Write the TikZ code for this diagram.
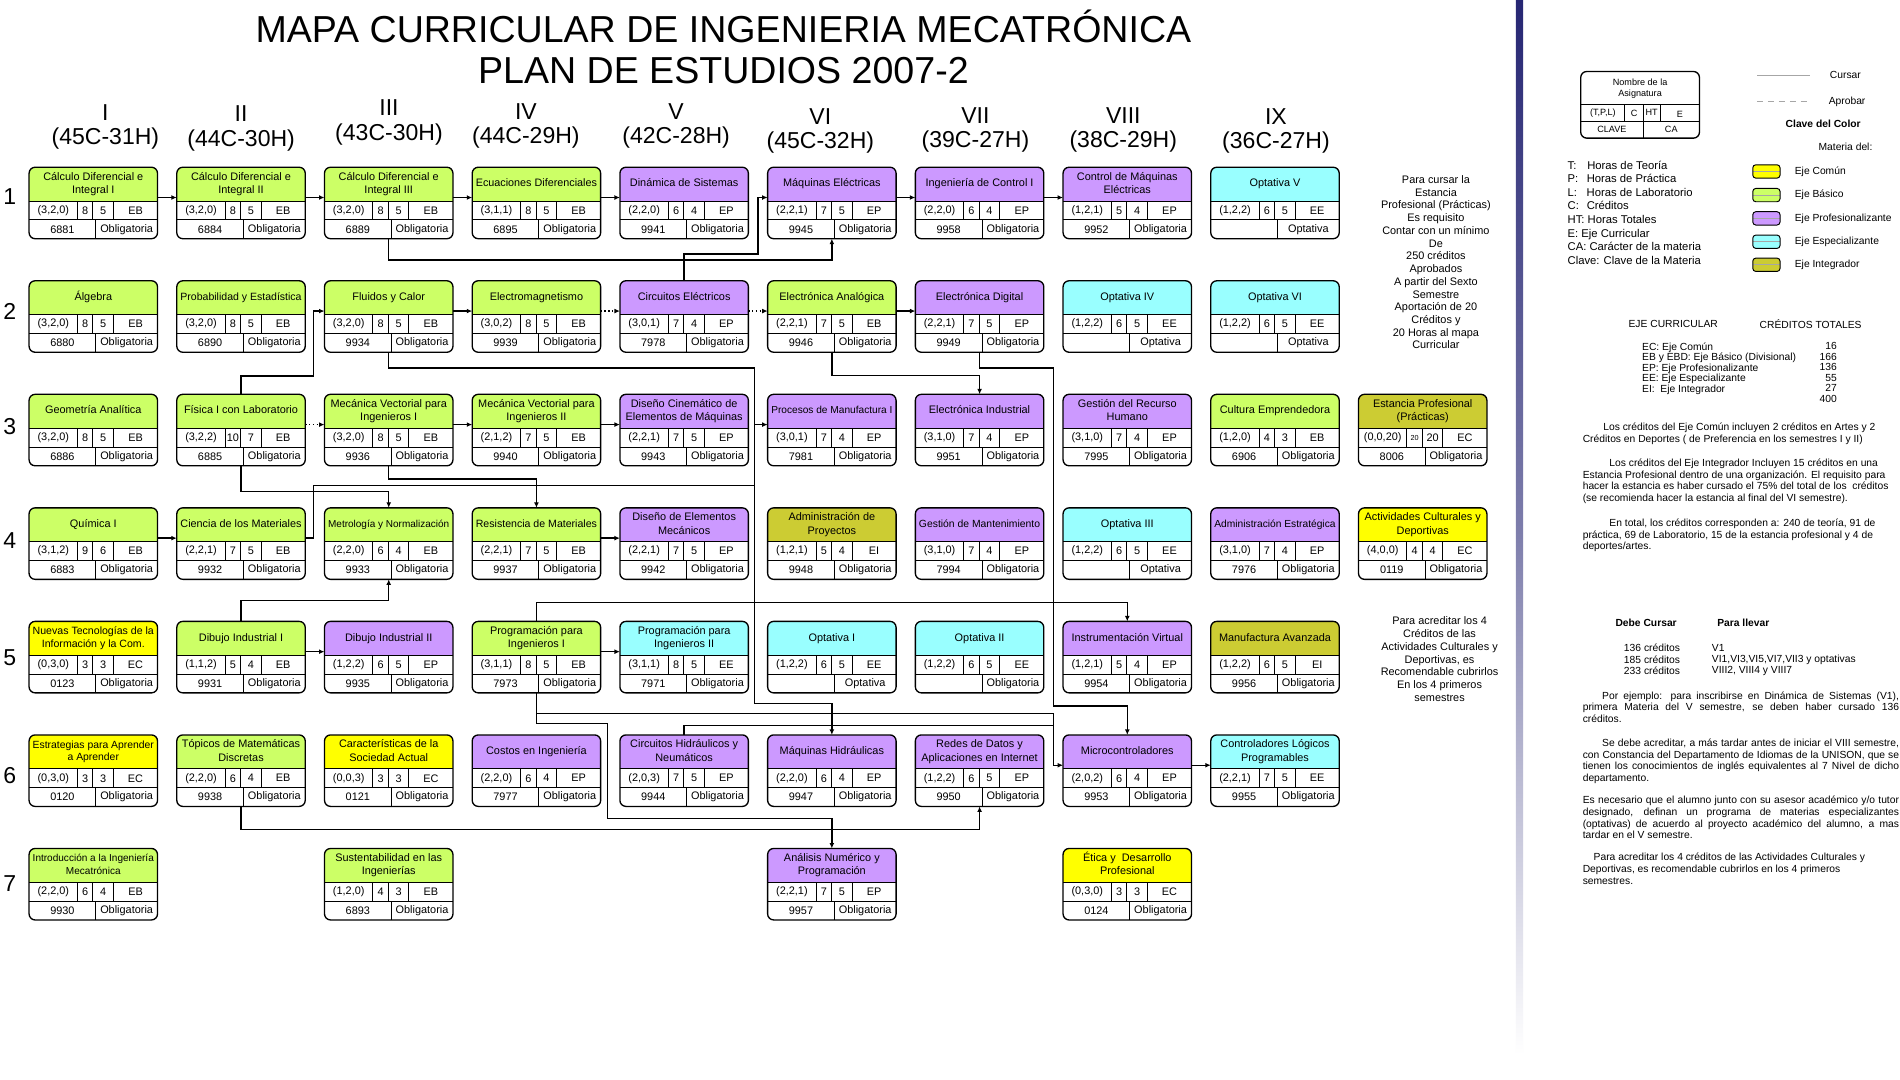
\documentclass[tikz,border=0pt]{standalone}
\usepackage{fontspec}
\setmainfont{Liberation Sans}
\usepackage{graphicx}
\usepackage{tikz}
\usetikzlibrary{arrows.meta}
\definecolor{ejecomun}{HTML}{FFFF00}
\definecolor{ejebasico}{HTML}{CCFF66}
\definecolor{ejeprof}{HTML}{CC99FF}
\definecolor{ejeesp}{HTML}{99FFFF}
\definecolor{ejeint}{HTML}{CCCC33}
\definecolor{barra}{HTML}{262673}
\definecolor{gris}{HTML}{A6A6A6}

% titulo de la materia: se reduce si no cabe en la caja
\newsavebox\cajatitulo
\newcommand{\ajusta}[1]{\sbox\cajatitulo{\begin{tabular}{@{}c@{}}#1\end{tabular}}%
  \ifdim\wd\cajatitulo>100pt\resizebox{100pt}{!}{\usebox\cajatitulo}\else\usebox\cajatitulo\fi}
\newcommand{\renglon}[1]{\makebox[261pt][s]{#1}}

% (T,P,L) / C / HT / E
\def\celdas#1#2/#3/#4/#5\relax{%
  \node[dato] (#1-h)  at ([shift={(20,-35.75)}]#1.north west) {#2};
  \node[dato] (#1-c)  at ([shift={(46.35,-35.75)}]#1.north west) {#3};
  \node[dato] (#1-ht) at ([shift={(61.2,-35.75)}]#1.north west) {#4};
  \node[dato] (#1-e)  at ([shift={(87.85,-35.75)}]#1.north west) {#5};
}
% nombre, semestre, fila, eje, titulo, celdas, clave, caracter
\newcommand{\materia}[8]{%
  \node[materia=#4] (#1) at ({24+121.9*(#2-1)},{-138-93.7*(#3-1)}) {};
  \node[titulo] (#1-t) at ([yshift=-14pt]#1.north) {\ajusta{#5}};
  \celdas{#1}#6\relax
  \node[dato] (#1-cl) at ([shift={(27.5,-51.3)}]#1.north west) {#7};
  \node[dato] (#1-ca) at ([shift={(80.5,-51.3)}]#1.north west) {#8};
}

\begin{document}
\begin{tikzpicture}[
    x=1pt, y=1pt,
    materia/.style={draw, line width=1.1pt, rounded corners=5pt, anchor=north west,
        minimum width=106pt, minimum height=59pt, inner sep=0pt, outer sep=0pt, fill=white,
        path picture={
            \coordinate (pp) at (path picture bounding box.north west);
            \fill[#1, sharp corners] (pp) rectangle ++(106,-28);
            \draw[line width=0.8pt, sharp corners]
                (pp) ++(0,-28) -- ++(106,0) (pp) ++(0,-43.5) -- ++(106,0)
                (pp) ++(40,-28) -- ++(0,-15.5) (pp) ++(52.7,-28) -- ++(0,-15.5)
                (pp) ++(69.7,-28) -- ++(0,-15.5) (pp) ++(55,-43.5) -- ++(0,-15.5);
        }},
    titulo/.style={inner sep=0pt, outer sep=0pt, minimum width=106pt, minimum height=22pt,
        font=\fontsize{9}{11}\selectfont},
    dato/.style={inner sep=0pt, font=\fontsize{9}{10}\selectfont},
    flecha/.style={-{Latex[length=4.5pt, width=4pt]}, line width=1.1pt},
    punteada/.style={flecha, dotted},
    linea/.style={line width=1.1pt},
    encabezado/.style={inner sep=0pt, align=center, font=\fontsize{19}{20}\selectfont},
    fila/.style={inner sep=0pt, font=\fontsize{19}{20}\selectfont},
    rotulo/.style={inner sep=0pt, align=center, font=\fontsize{31}{34}\selectfont},
    nota/.style={inner sep=0pt, align=center, font=\fontsize{9}{10.5}\selectfont},
    leyenda/.style={inner sep=0pt, font=\fontsize{8.5}{10}\selectfont},
    parrafo/.style={inner sep=0pt, align=left, anchor=north west, font=\fontsize{8.5}{9.6}\selectfont},
    muestra/.style={draw, line width=1.1pt, rounded corners=5pt, anchor=north west,
        minimum width=98pt, minimum height=55pt, inner sep=0pt, outer sep=0pt,
        path picture={
            \coordinate (pm) at (path picture bounding box.north west);
            \draw[line width=0.8pt, sharp corners]
                (pm) ++(0,-27) -- ++(98,0) (pm) ++(0,-41) -- ++(98,0)
                (pm) ++(36.5,-27) -- ++(0,-14) (pm) ++(51.5,-27) -- ++(0,-14)
                (pm) ++(65.5,-27) -- ++(0,-14) (pm) ++(51.5,-41) -- ++(0,-14);
        }},
    colormuestra/.style={draw, line width=0.8pt, rounded corners=2.5pt,
        minimum width=22.5pt, minimum height=11pt, inner sep=0pt,
        path picture={\draw[sharp corners, black!35, line width=0.5pt]
            (path picture bounding box.west) -- (path picture bounding box.east);}}
]
\path[use as bounding box, fill=white] (0,0) rectangle (1568,-891);

% =====================================================
% TITULO Y ENCABEZADOS
% =====================================================
\node[rotulo] (titulo) at (597,-39) {MAPA CURRICULAR DE INGENIERIA MECATRÓNICA\\PLAN DE ESTUDIOS 2007-2};

\node[encabezado] (semI)    at (87,-105)  {I\\(45C-31H)};
\node[encabezado] (semII)   at (199,-106) {II\\(44C-30H)};
\node[encabezado] (semIII)  at (321,-101) {III\\(43C-30H)};
\node[encabezado] (semIV)   at (434,-104) {IV\\(44C-29H)};
\node[encabezado] (semV)    at (558,-104) {V\\(42C-28H)};
\node[encabezado] (semVI)   at (677,-108) {VI\\(45C-32H)};
\node[encabezado] (semVII)  at (805,-107) {VII\\(39C-27H)};
\node[encabezado] (semVIII) at (927,-107) {VIII\\(38C-29H)};
\node[encabezado] (semIX)   at (1053,-108){IX\\(36C-27H)};

\node[fila] (f1) at (8,-162) {1};
\node[fila] (f2) at (8,-257) {2};
\node[fila] (f3) at (8,-352) {3};
\node[fila] (f4) at (8,-446) {4};
\node[fila] (f5) at (8,-543) {5};
\node[fila] (f6) at (8,-640) {6};
\node[fila] (f7) at (8,-729) {7};

% =====================================================
% MATERIAS
% =====================================================
% Semestre I
\materia{calI}{1}{1}{ejebasico}{Cálculo Diferencial e\\Integral I}{(3,2,0)/8/5/EB}{6881}{Obligatoria}
\materia{algebra}{1}{2}{ejebasico}{Álgebra}{(3,2,0)/8/5/EB}{6880}{Obligatoria}
\materia{geoan}{1}{3}{ejebasico}{Geometría Analítica}{(3,2,0)/8/5/EB}{6886}{Obligatoria}
\materia{quimI}{1}{4}{ejebasico}{Química I}{(3,1,2)/9/6/EB}{6883}{Obligatoria}
\materia{ntic}{1}{5}{ejecomun}{Nuevas Tecnologías de la\\Información y la Com.}{(0,3,0)/3/3/EC}{0123}{Obligatoria}
\materia{estrat}{1}{6}{ejecomun}{Estrategias para Aprender\\a Aprender}{(0,3,0)/3/3/EC}{0120}{Obligatoria}
\materia{intro}{1}{7}{ejebasico}{Introducción a la Ingeniería\\Mecatrónica}{(2,2,0)/6/4/EB}{9930}{Obligatoria}

% Semestre II
\materia{calII}{2}{1}{ejebasico}{Cálculo Diferencial e\\Integral II}{(3,2,0)/8/5/EB}{6884}{Obligatoria}
\materia{probest}{2}{2}{ejebasico}{Probabilidad y Estadística}{(3,2,0)/8/5/EB}{6890}{Obligatoria}
\materia{fisI}{2}{3}{ejebasico}{Física I con Laboratorio}{(3,2,2)/10/7/EB}{6885}{Obligatoria}
\materia{cienmat}{2}{4}{ejebasico}{Ciencia de los Materiales}{(2,2,1)/7/5/EB}{9932}{Obligatoria}
\materia{dibI}{2}{5}{ejebasico}{Dibujo Industrial I}{(1,1,2)/5/4/EB}{9931}{Obligatoria}
\materia{topmat}{2}{6}{ejebasico}{Tópicos de Matemáticas\\Discretas}{(2,2,0)/6/4/EB}{9938}{Obligatoria}

% Semestre III
\materia{calIII}{3}{1}{ejebasico}{Cálculo Diferencial e\\Integral III}{(3,2,0)/8/5/EB}{6889}{Obligatoria}
\materia{fluidos}{3}{2}{ejebasico}{Fluidos y Calor}{(3,2,0)/8/5/EB}{9934}{Obligatoria}
\materia{mecvI}{3}{3}{ejebasico}{Mecánica Vectorial para\\Ingenieros I}{(3,2,0)/8/5/EB}{9936}{Obligatoria}
\materia{metro}{3}{4}{ejebasico}{Metrología y Normalización}{(2,2,0)/6/4/EB}{9933}{Obligatoria}
\materia{dibII}{3}{5}{ejeprof}{Dibujo Industrial II}{(1,2,2)/6/5/EP}{9935}{Obligatoria}
\materia{sociedad}{3}{6}{ejecomun}{Características de la\\Sociedad Actual}{(0,0,3)/3/3/EC}{0121}{Obligatoria}
\materia{sust}{3}{7}{ejebasico}{Sustentabilidad en las\\Ingenierías}{(1,2,0)/4/3/EB}{6893}{Obligatoria}

% Semestre IV
\materia{ecdif}{4}{1}{ejebasico}{Ecuaciones Diferenciales}{(3,1,1)/8/5/EB}{6895}{Obligatoria}
\materia{electmag}{4}{2}{ejebasico}{Electromagnetismo}{(3,0,2)/8/5/EB}{9939}{Obligatoria}
\materia{mecvII}{4}{3}{ejebasico}{Mecánica Vectorial para\\Ingenieros II}{(2,1,2)/7/5/EB}{9940}{Obligatoria}
\materia{resmat}{4}{4}{ejebasico}{Resistencia de Materiales}{(2,2,1)/7/5/EB}{9937}{Obligatoria}
\materia{progI}{4}{5}{ejebasico}{Programación para\\Ingenieros I}{(3,1,1)/8/5/EB}{7973}{Obligatoria}
\materia{costos}{4}{6}{ejeprof}{Costos en Ingeniería}{(2,2,0)/6/4/EP}{7977}{Obligatoria}

% Semestre V
\materia{dinsis}{5}{1}{ejeprof}{Dinámica de Sistemas}{(2,2,0)/6/4/EP}{9941}{Obligatoria}
\materia{circel}{5}{2}{ejeprof}{Circuitos Eléctricos}{(3,0,1)/7/4/EP}{7978}{Obligatoria}
\materia{discin}{5}{3}{ejeprof}{Diseño Cinemático de\\Elementos de Máquinas}{(2,2,1)/7/5/EP}{9943}{Obligatoria}
\materia{diselem}{5}{4}{ejeprof}{Diseño de Elementos\\Mecánicos}{(2,2,1)/7/5/EP}{9942}{Obligatoria}
\materia{progII}{5}{5}{ejeesp}{Programación para\\Ingenieros II}{(3,1,1)/8/5/EE}{7971}{Obligatoria}
\materia{circhid}{5}{6}{ejeprof}{Circuitos Hidráulicos y\\Neumáticos}{(2,0,3)/7/5/EP}{9944}{Obligatoria}

% Semestre VI
\materia{maqel}{6}{1}{ejeprof}{Máquinas Eléctricas}{(2,2,1)/7/5/EP}{9945}{Obligatoria}
\materia{elecan}{6}{2}{ejebasico}{Electrónica Analógica}{(2,2,1)/7/5/EB}{9946}{Obligatoria}
\materia{procman}{6}{3}{ejeprof}{Procesos de Manufactura I}{(3,0,1)/7/4/EP}{7981}{Obligatoria}
\materia{admproy}{6}{4}{ejeint}{Administración de\\Proyectos}{(1,2,1)/5/4/EI}{9948}{Obligatoria}
\materia{optI}{6}{5}{ejeesp}{Optativa I}{(1,2,2)/6/5/EE}{}{Optativa}
\materia{maqhid}{6}{6}{ejeprof}{Máquinas Hidráulicas}{(2,2,0)/6/4/EP}{9947}{Obligatoria}
\materia{analnum}{6}{7}{ejeprof}{Análisis Numérico y\\Programación}{(2,2,1)/7/5/EP}{9957}{Obligatoria}

% Semestre VII
\materia{ctrlI}{7}{1}{ejeprof}{Ingeniería de Control I}{(2,2,0)/6/4/EP}{9958}{Obligatoria}
\materia{elecdig}{7}{2}{ejeprof}{Electrónica Digital}{(2,2,1)/7/5/EP}{9949}{Obligatoria}
\materia{elecind}{7}{3}{ejeprof}{Electrónica Industrial}{(3,1,0)/7/4/EP}{9951}{Obligatoria}
\materia{gesmant}{7}{4}{ejeprof}{Gestión de Mantenimiento}{(3,1,0)/7/4/EP}{7994}{Obligatoria}
\materia{optII}{7}{5}{ejeesp}{Optativa II}{(1,2,2)/6/5/EE}{}{Obligatoria}
\materia{redes}{7}{6}{ejeprof}{Redes de Datos y\\Aplicaciones en Internet}{(1,2,2)/6/5/EP}{9950}{Obligatoria}

% Semestre VIII
\materia{ctrlmaq}{8}{1}{ejeprof}{Control de Máquinas\\Eléctricas}{(1,2,1)/5/4/EP}{9952}{Obligatoria}
\materia{optIV}{8}{2}{ejeesp}{Optativa IV}{(1,2,2)/6/5/EE}{}{Optativa}
\materia{gesrh}{8}{3}{ejeprof}{Gestión del Recurso\\Humano}{(3,1,0)/7/4/EP}{7995}{Obligatoria}
\materia{optIII}{8}{4}{ejeesp}{Optativa III}{(1,2,2)/6/5/EE}{}{Optativa}
\materia{instvir}{8}{5}{ejeprof}{Instrumentación Virtual}{(1,2,1)/5/4/EP}{9954}{Obligatoria}
\materia{micro}{8}{6}{ejeprof}{Microcontroladores}{(2,0,2)/6/4/EP}{9953}{Obligatoria}
\materia{etica}{8}{7}{ejecomun}{Ética y\ \ Desarrollo\\Profesional}{(0,3,0)/3/3/EC}{0124}{Obligatoria}

% Semestre IX
\materia{optV}{9}{1}{ejeesp}{Optativa V}{(1,2,2)/6/5/EE}{}{Optativa}
\materia{optVI}{9}{2}{ejeesp}{Optativa VI}{(1,2,2)/6/5/EE}{}{Optativa}
\materia{cultemp}{9}{3}{ejebasico}{Cultura Emprendedora}{(1,2,0)/4/3/EB}{6906}{Obligatoria}
\materia{admest}{9}{4}{ejeprof}{Administración Estratégica}{(3,1,0)/7/4/EP}{7976}{Obligatoria}
\materia{manav}{9}{5}{ejeint}{Manufactura Avanzada}{(1,2,2)/6/5/EI}{9956}{Obligatoria}
\materia{plc}{9}{6}{ejeesp}{Controladores Lógicos\\Programables}{(2,2,1)/7/5/EE}{9955}{Obligatoria}

% Estancia y actividades
\materia{estancia}{10}{3}{ejeint}{Estancia Profesional\\(Prácticas)}{(0,0,20)/{\fontsize{6}{7}\selectfont 20}/20/EC}{8006}{Obligatoria}
\materia{actcult}{10}{4}{ejecomun}{Actividades Culturales y\\Deportivas}{(4,0,0)/4/4/EC}{0119}{Obligatoria}

% =====================================================
% SERIACION
% =====================================================
% misma fila
\draw[flecha] (calI-t.south east) -- (calII-t.south west);
\draw[flecha] (calII-t.south east) -- (calIII-t.south west);
\draw[flecha] (calIII-t.south east) -- (ecdif-t.south west);
\draw[flecha] (ecdif-t.south east) -- (dinsis-t.south west);
\draw[flecha] (maqel-t.south east) -- (ctrlI-t.south west);
\draw[flecha] (ctrlI-t.south east) -- (ctrlmaq-t.south west);
\draw[flecha] (fluidos-t.south east) -- (electmag-t.south west);
\draw[punteada] (electmag-t.south east) -- (circel-t.south west);
\draw[punteada] (circel-t.south east) -- (elecan-t.south west);
\draw[flecha] (elecan-t.south east) -- (elecdig-t.south west);
\draw[punteada] (fisI-t.south east) -- (mecvI-t.south west);
\draw[flecha] (mecvI-t.south east) -- (mecvII-t.south west);
\draw[flecha] (mecvII-t.south east) -- (discin-t.south west);
\draw[flecha] (quimI-t.south east) -- (cienmat-t.south west);
\draw[flecha] (resmat-t.south east) -- (diselem-t.south west);
\draw[flecha] (dibI-t.south east) -- (dibII-t.south west);
\draw[flecha] (progI-t.south east) -- (progII-t.south west);
\draw[flecha] (micro-t.south east) -- (plc-t.south west);

% entre filas
\draw[flecha] (calIII.south) -- ++(0,-17.5) -| (maqel.south);
\draw[flecha] (circel.north) -- ++(0,22) -| ([xshift=-8pt]maqel-t.south west) -- (maqel-t.south west);
\draw[flecha] (fisI.north) -- ++(0,15) -| ([xshift=-9pt]fluidos-t.south west) -- (fluidos-t.south west);
\draw[flecha] (fluidos.south) -- ++(0,-13) -| ([xshift=-64pt,yshift=26pt]maqhid.north) -| (maqhid.north);
\draw[flecha] (elecan.south) -- ++(0,-19) -| (elecind.north);
\draw[flecha] (elecdig.south) -- ++(0,-13) -| ([xshift=-61pt,yshift=24pt]micro.north) -| (micro.north);
\draw[flecha] (mecvI.south) -- ++(0,-11) -| (resmat.north);
\draw[flecha] (fisI.south) -- ++(0,-21) -| (metro.north);
\draw[flecha] (cienmat-t.south east) -- ++(7,0) |- ([xshift=-11pt,yshift=-50pt]procman-t.south west) |- (procman-t.south west);
\draw[flecha] (dibI.north) -- ++(0,17) -| (metro.south);
\draw[flecha] (progI.north) -- ++(0,15.5) -| (instvir.north);
\draw[flecha] (progI.south) -- ++(0,-17) -| ([xshift=-8pt]micro-t.south west) -- (micro-t.south west);
\draw[linea] (circhid.north) -- ++(0,8) -| ([xshift=-8pt]micro-t.south west);
\draw[flecha] (progI.south) -- ++(0,-25) -| ([xshift=-185pt,yshift=25pt]analnum.north) -| (analnum.north);
\draw[flecha] (topmat.south) -- ++(0,-19) -| (redes.south);

% =====================================================
% NOTAS
% =====================================================
\node[nota] (notaestancia) at (1185,-216.5) {Para cursar la\\Estancia\\Profesional (Prácticas)\\Es requisito\\Contar con un mínimo\\De\\250 créditos\\Aprobados\\A partir del Sexto\\Semestre\\Aportación de 20\\Créditos y\\20 Horas al mapa\\Curricular};
\node[nota] (notaact) at (1188,-544) {Para acreditar los 4\\Créditos de las\\Actividades Culturales y\\Deportivas, es\\Recomendable cubrirlos\\En los 4 primeros\\semestres};

% barra separadora
\shade[top color=barra, bottom color=white, middle color=barra!60] (1251,0) rectangle (1257,-870);

% =====================================================
% SIMBOLOGIA
% =====================================================
\node[muestra] (muestra) at (1304.5,-59) {};
\node[leyenda, align=center, font=\fontsize{7.5}{9}\selectfont] (mnombre) at ([shift={(49,-14)}]muestra.north west) {Nombre de la\\Asignatura};
\node[leyenda, font=\fontsize{7.5}{9}\selectfont] (mtpl) at ([shift={(18.25,-34)}]muestra.north west) {(T,P,L)};
\node[leyenda, font=\fontsize{7.5}{9}\selectfont] (mc)   at ([shift={(44,-34.5)}]muestra.north west) {C};
\node[leyenda, font=\fontsize{7.5}{9}\selectfont] (mht)  at ([shift={(58.5,-34)}]muestra.north west) {HT};
\node[leyenda, font=\fontsize{7.5}{9}\selectfont] (me)   at ([shift={(81.75,-35.5)}]muestra.north west) {E};
\node[leyenda, font=\fontsize{7.5}{9}\selectfont] (mclave) at ([shift={(25.75,-48)}]muestra.north west) {CLAVE};
\node[leyenda, font=\fontsize{7.5}{9}\selectfont] (mca)  at ([shift={(74.75,-48)}]muestra.north west) {CA};

\coordinate (cursarA) at (1450,-62);
\coordinate (cursarB) at (1494,-62);
\coordinate (aprobarA) at (1450,-84);
\coordinate (aprobarB) at (1494,-84);
\draw[gris, line width=0.7pt] (cursarA) -- (cursarB);
\draw[gris, line width=0.7pt, dash pattern=on 5pt off 4pt] (aprobarA) -- (aprobarB);
\node[leyenda, anchor=west] (cursar) at (1510,-62) {Cursar};
\node[leyenda, anchor=west] (aprobar) at (1509,-84) {Aprobar};

\node[leyenda, font=\fontsize{8.5}{10}\bfseries] (clavecolor) at (1504.6,-102) {Clave del Color};
\node[leyenda] (materiadel) at (1523,-121) {Materia del:};

\node[colormuestra, fill=ejecomun]  (swcomun)  at (1457.75,-141.5) {};
\node[colormuestra, fill=ejebasico] (swbasico) at (1457.75,-161) {};
\node[colormuestra, fill=ejeprof]   (swprof)   at (1457.75,-180.2) {};
\node[colormuestra, fill=ejeesp]    (swesp)    at (1457.75,-199.5) {};
\node[colormuestra, fill=ejeint]    (swint)    at (1457.75,-218.5) {};
\node[leyenda, anchor=west] (lcomun)  at (1481,-141.5) {Eje Común};
\node[leyenda, anchor=west] (lbasico) at (1481,-161) {Eje Básico};
\node[leyenda, anchor=west] (lprof)   at (1481,-180.2) {Eje Profesionalizante};
\node[leyenda, anchor=west] (lesp)    at (1481,-199.5) {Eje Especializante};
\node[leyenda, anchor=west] (lint)    at (1481,-218.5) {Eje Integrador};

\node[leyenda, align=left, anchor=north west, font=\fontsize{9.3}{11.25}\selectfont] (abreviaturas) at (1293.5,-132.5)
    {T:\hspace{9pt}Horas de Teoría\\P:\hspace{7pt}Horas de Práctica\\L:\hspace{8pt}Horas de Laboratorio\\C:\hspace{6.5pt}Créditos\\HT: Horas Totales\\E: Eje Curricular\\CA: Carácter de la materia\\Clave: Clave de la Materia};

% ejes y creditos
\node[leyenda, anchor=west] (ejecurr) at (1343.8,-267.6) {EJE CURRICULAR};
\node[leyenda, anchor=west] (credtot) at (1452,-267.6) {CRÉDITOS TOTALES};
\node[leyenda, align=left, anchor=north west, font=\fontsize{8.5}{8.7}\selectfont] (ejes) at (1355,-282.5)
    {EC: Eje Común\\EB y EBD: Eje Básico (Divisional)\\EP: Eje Profesionalizante\\EE: Eje Especializante\\EI:\ \ Eje Integrador};
\node[leyenda, align=right, anchor=north east, font=\fontsize{8.5}{8.7}\selectfont] (creditos) at (1516,-282.5)
    {16\\166\\136\\55\\27\\400};

\node[parrafo] (pcomun) at (1306,-349)
    {\hspace*{17pt}Los créditos del Eje Común incluyen 2 créditos en Artes y 2\\Créditos en Deportes ( de Preferencia en los semestres I y II)};
\node[parrafo] (pintegrador) at (1306,-378.5)
    {\hspace*{22pt}Los créditos del Eje Integrador Incluyen 15 créditos en una\\Estancia Profesional dentro de una organización. El requisito para\\hacer la estancia es haber cursado el 75\% del total de los\ \ créditos\\(se recomienda hacer la estancia al final del VI semestre).};
\node[parrafo] (ptotal) at (1306,-428)
    {\hspace*{22pt}En total, los créditos corresponden a: 240 de teoría, 91 de\\práctica, 69 de Laboratorio, 15 de la estancia profesional y 4 de\\deportes/artes.};

% creditos para llevar
\node[leyenda, anchor=west, font=\fontsize{8.5}{10}\bfseries] (debecursar) at (1333,-514) {Debe Cursar};
\node[leyenda, anchor=west, font=\fontsize{8.5}{10}\bfseries] (parallevar) at (1417,-514) {Para llevar};
\node[parrafo, font=\fontsize{8.5}{9.2}\selectfont] (cred136) at (1340,-531.5) {136 créditos\\185 créditos\\233 créditos};
\node[parrafo, font=\fontsize{8.5}{9.2}\selectfont] (llevar) at (1412.6,-531.5) {V1\\VI1,VI3,VI5,VI7,VII3 y optativas\\VIII2, VIII4 y VIII7};

\node[parrafo] (pejemplo) at (1306,-570.5)
    {\renglon{\hspace*{16pt}Por ejemplo: para inscribirse en Dinámica de Sistemas (V1),}\\\renglon{primera Materia del V semestre, se deben haber cursado 136}\\créditos.};
\node[parrafo] (pidioma) at (1306,-609.5)
    {\renglon{\hspace*{16pt}Se debe acreditar, a más tardar antes de iniciar el VIII semestre,}\\\renglon{con Constancia del Departamento de Idiomas de la UNISON, que se}\\\renglon{tienen los conocimientos de inglés equivalentes al 7 Nivel de dicho}\\departamento.};
\node[parrafo] (poptativas) at (1306,-657)
    {\renglon{Es necesario que el alumno junto con su asesor académico y/o tutor}\\\renglon{designado, definan un programa de materias especializantes}\\\renglon{(optativas) de acuerdo al proyecto académico del alumno, a mas}\\tardar en el V semestre.};
\node[parrafo] (pcultural) at (1306,-704)
    {\hspace*{9pt}Para acreditar los 4 créditos de las Actividades Culturales y\\Deportivas, es recomendable cubrirlos en los 4 primeros\\semestres.};

\end{tikzpicture}
\end{document}
